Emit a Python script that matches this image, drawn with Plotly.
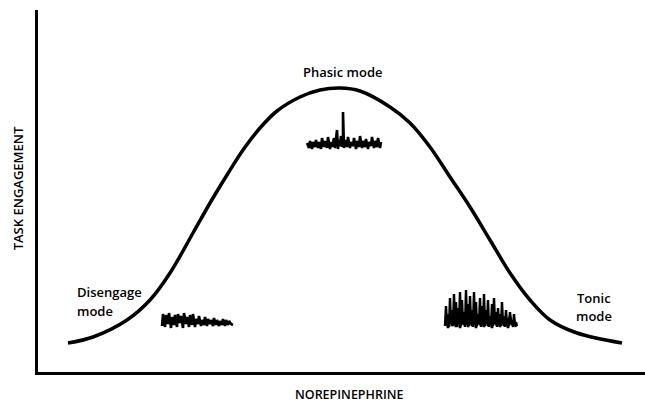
import plotly.graph_objects as go

# Inverted-U curve (norepinephrine level vs task engagement), arbitrary units
curve_ne = [30, 55, 89, 112, 132, 155, 172, 189, 205, 222, 239, 262, 282, 302,
            322, 352, 372, 392, 412, 432, 452, 472, 492, 512, 539, 584]
curve_eng = [29, 35, 52, 72, 99, 139, 169, 197, 222, 244, 261, 275, 282, 284,
             281, 265, 249, 225, 195, 165, 132, 99, 72, 52, 39, 29]

# Disengage-mode firing trace
dis_x = [124, 125, 127, 128, 130, 131, 133, 134, 136, 137, 139, 140, 142, 143, 145, 146,
         148, 149, 151, 152, 154, 155, 157, 158, 160, 161, 163, 164, 166, 167, 169, 170,
         172, 173, 175, 176, 178, 179, 181, 182, 184, 185, 187, 188, 190, 191, 193, 195]
dis_y = [46, 58, 45, 57, 48, 59, 44, 55, 47, 57, 45, 58, 49, 56, 44, 59,
         48, 55, 45, 57, 47, 58, 45, 53, 48, 56, 46, 52, 47, 55, 46, 53,
         48, 52, 46, 54, 47, 52, 46, 51, 47, 53, 46, 52, 47, 51, 48, 47]

# Phasic-mode firing trace
pha_x = [269, 271, 272, 274, 275, 277, 278, 280, 281, 283, 284, 286, 287, 289, 290, 292,
         293, 294, 296, 297, 299, 300, 301, 302, 303, 304, 305, 305, 306, 307, 309, 310,
         312, 313, 315, 316, 318, 319, 321, 322, 324, 325, 327, 328, 330, 331, 333, 334,
         336, 337, 339, 340, 342, 343]
pha_y = [229, 224, 231, 223, 230, 225, 232, 224, 230, 223, 234, 225, 231, 224, 235, 223,
         230, 225, 234, 224, 242, 223, 232, 226, 236, 225, 229, 260, 224, 232, 225, 235,
         224, 230, 226, 234, 223, 231, 225, 236, 224, 231, 225, 233, 223, 230, 226, 235,
         224, 231, 225, 234, 224, 230]

# Tonic-mode firing traces
ton_x = list(range(407, 480))
ton_y = [46, 66, 47, 58, 45, 74, 48, 62, 46, 78, 47, 70, 45, 64, 48, 80, 46, 72, 49, 60,
         45, 82, 47, 68, 46, 76, 48, 62, 45, 80, 47, 70, 46, 58, 48, 74, 45, 66, 47, 78,
         46, 62, 48, 72, 45, 56, 47, 68, 46, 74, 48, 60, 45, 64, 47, 58, 46, 70, 48, 56,
         45, 62, 47, 54, 46, 60, 48, 52, 45, 58, 47, 50, 46]
ton2_x = [408, 410, 412, 414, 416, 418, 420, 422, 424, 426, 428, 430, 432, 434, 436, 438,
          440, 442, 444, 446, 448, 450, 452, 454, 456, 458, 460, 462, 464, 466, 468, 470,
          472, 474, 476, 478]
ton2_y = [54, 44, 57, 46, 52, 45, 58, 44, 55, 47, 60, 45, 53, 46, 57, 44, 55, 47, 52, 45,
          58, 46, 54, 44, 56, 47, 52, 45, 55, 46, 53, 44, 56, 47, 51, 45]

FONT = "Open Sans"
WEIGHT = 600

fig = go.Figure()
fig.add_trace(go.Scatter(x=curve_ne, y=curve_eng, mode="lines",
                         line=dict(color="#000", width=3.5, shape="spline", smoothing=1.0),
                         hoverinfo="skip"))
for xs, ys, w in [(dis_x, dis_y, 2.6), (pha_x, pha_y, 2.6), (ton_x, ton_y, 2.4), (ton2_x, ton2_y, 2.6)]:
    fig.add_trace(go.Scatter(x=xs, y=ys, mode="lines",
                             line=dict(color="#000", width=w), hoverinfo="skip"))

ann = [
    dict(text="Phasic mode", x=305, y=300, xanchor="center"),
    dict(text="Disengage", x=37, y=80, xanchor="left"),
    dict(text="mode", x=37, y=61, xanchor="left"),
    dict(text="Tonic", x=556, y=74, xanchor="center"),
    dict(text="mode", x=556, y=56, xanchor="center"),
]
for a in ann:
    fig.add_annotation(text=a["text"], x=a["x"], y=a["y"], xref="x", yref="y",
                       xanchor=a["xanchor"], yanchor="middle", showarrow=False,
                       font=dict(family=FONT, size=13, color="#000", weight=WEIGHT))
fig.add_annotation(text="NOREPINEPHRINE", x=0.5124, y=-0.0635, xref="paper", yref="paper",
                   showarrow=False, xanchor="center", yanchor="middle",
                   font=dict(family=FONT, size=12.5, color="#000", weight=WEIGHT))
fig.add_annotation(text="TASK ENGAGEMENT", x=-0.0326, y=0.508, xref="paper", yref="paper",
                   textangle=-90, showarrow=False, xanchor="center", yanchor="middle",
                   font=dict(family=FONT, size=13, color="#000", weight=WEIGHT))

fig.update_layout(
    width=645, height=405,
    margin=dict(l=38, r=0, t=10, b=33),
    paper_bgcolor="white", plot_bgcolor="white",
    showlegend=False,
    xaxis=dict(range=[0, 607], showgrid=False, zeroline=False, showticklabels=False,
               ticks="", showline=True, linecolor="#000", linewidth=3),
    yaxis=dict(range=[0, 362], showgrid=False, zeroline=False, showticklabels=False,
               ticks="", showline=True, linecolor="#000", linewidth=3),
)

fig.write_html("out.html", config={"displayModeBar": False},
               post_script="document.body.style.margin='0';document.body.style.overflow='hidden';")
